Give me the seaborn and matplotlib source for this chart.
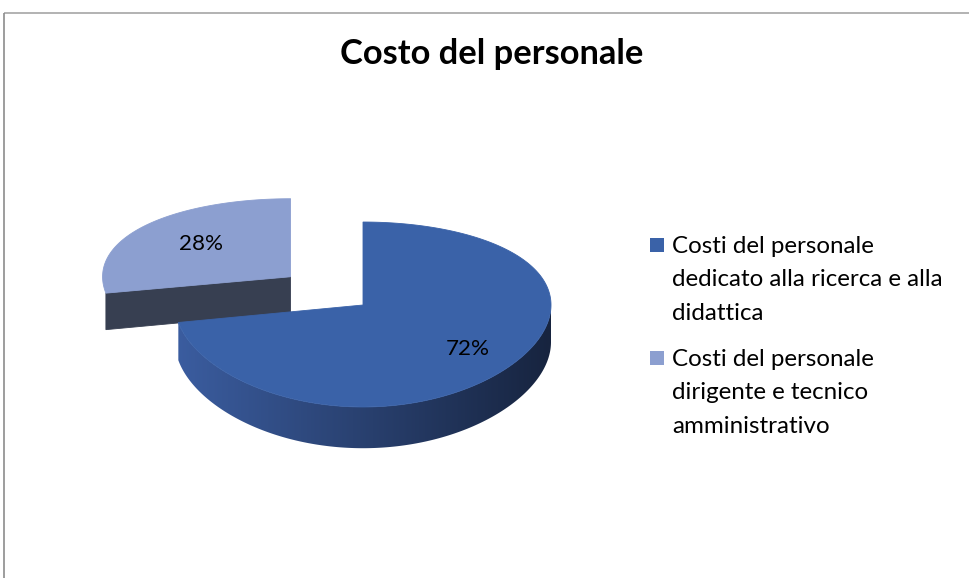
import numpy as np
import matplotlib
matplotlib.use("Agg")
import matplotlib.pyplot as plt
from matplotlib.patches import Polygon, Rectangle
from matplotlib.colors import to_rgb, LinearSegmentedColormap
import seaborn as sns

# ---------------- data ----------------
title = "Costo del personale"
categories = [
    "Costi del personale\ndedicato alla ricerca e alla\ndidattica",
    "Costi del personale\ndirigente e tecnico\namministrativo",
]
values = [72, 28]
pct_labels = ["72%", "28%"]
explode = [0.0, 0.5]

# ---------------- style ----------------
sns.set_theme(style="white")
plt.rcParams['font.family'] = ['Lato', 'DejaVu Sans']

top_colors = ["#3a62a8", "#8c9fd0"]
side_left = ["#3b5da0", "#3a4259"]
side_right = ["#17243f", "#333b4d"]
cut_colors = ["#2c4a80", "#373f51"]

W, Hpx = 969, 578
fig = plt.figure(figsize=(W / 100, Hpx / 100), dpi=100)
ax = fig.add_axes([0, 0, 1, 1])
ax.set_xlim(0, W)
ax.set_ylim(Hpx, 0)
ax.axis('off')

# chart frame (partly cropped in the reference)
ax.plot([4.5, W], [12.5, 12.5], color="#a6a6a6", lw=1.2, solid_capstyle='butt')
ax.plot([4.5, 4.5], [12.5, Hpx], color="#8c8c8c", lw=1.2, solid_capstyle='butt')

# 3D pie geometry (layout)
CX, CY, RX, RY, K, DEPTH = 363, 305, 188, 91.5, 0.1027, 37
label_r = [0.72, 0.62]


def proj(X, Z, down=0.0):
    s = 1.0 / (1.0 - K * Z)
    return CX + RX * X, CY + RY * Z * s + down * s


total = float(sum(values))
slices = []
start = 90.0
for i, v in enumerate(values):
    sweep = v / total * 360.0
    t1 = start
    t2 = start - sweep
    mid = np.deg2rad((t1 + t2) / 2)
    ox, oz = explode[i] * np.cos(mid), -explode[i] * np.sin(mid)
    slices.append(dict(i=i, t1=t1, t2=t2, mid=mid, ox=ox, oz=oz))
    start = t2

# draw back slices first
slices.sort(key=lambda s: s['oz'] - np.sin(s['mid']))

xmin, xmax = CX - RX, CX + RX
zbase = 2

for s in slices:
    i = s['i']
    ox, oz = s['ox'], s['oz']
    ts = np.linspace(s['t1'], s['t2'], 600)
    tr = np.deg2rad(ts)
    # outer side wall (front part only) with horizontal gradient
    fr = tr[np.sin(tr) < 0]
    if len(fr) > 1:
        topp = [proj(ox + np.cos(t), oz - np.sin(t)) for t in fr]
        botp = [proj(ox + np.cos(t), oz - np.sin(t), DEPTH) for t in fr[::-1]]
        wall = Polygon(topp + botp, closed=True, facecolor='none',
                       edgecolor='none', transform=ax.transData)
        ax.add_patch(wall)
        cmap = LinearSegmentedColormap.from_list(
            "w%d" % i, [side_left[i], side_right[i]])
        grad = np.linspace(0, 1, 256).reshape(1, -1)
        im = ax.imshow(grad, cmap=cmap, extent=(xmin, xmax, 500, 150),
                       aspect='auto', interpolation='bilinear', zorder=zbase)
        im.set_clip_path(wall)
    # radial cut faces
    for ang, sign in ((s['t1'], -1), (s['t2'], 1)):
        a = np.deg2rad(ang)
        nz = sign * np.cos(a)
        if nz > 0.05:
            v0 = proj(ox, oz)
            e0 = proj(ox + np.cos(a), oz - np.sin(a))
            e1 = proj(ox + np.cos(a), oz - np.sin(a), DEPTH)
            v1 = proj(ox, oz, DEPTH)
            ax.add_patch(Polygon([v0, e0, e1, v1], closed=True,
                                 facecolor=cut_colors[i], edgecolor=cut_colors[i],
                                 lw=0.6, zorder=zbase + 0.5))
    # top face
    pts = [proj(ox, oz)]
    for t in tr:
        pts.append(proj(ox + np.cos(t), oz - np.sin(t)))
    ax.add_patch(Polygon(pts, closed=True, facecolor=top_colors[i],
                         edgecolor=top_colors[i], lw=0.6, zorder=zbase + 1))
    # percentage label
    lx, lz = ox + label_r[i] * np.cos(s['mid']), oz - label_r[i] * np.sin(s['mid'])
    px, py = proj(lx, lz)
    s['label'] = ax.text(px, py, pct_labels[i], ha='center', va='center',
                         fontsize=15, color='black', zorder=10)
    zbase += 2

ax.set_xlim(0, W)
ax.set_ylim(Hpx, 0)

# title
t_title = ax.text(492, 64, title, ha='center', va='baseline', fontsize=20,
                  fontweight='bold', color='black')

# legend
legend_texts = []
base_y = [253, 366]
line_h = 33.3
for i, cat in enumerate(categories):
    lines = cat.split("\n")
    ax.add_patch(Rectangle((650, base_y[i] - 15), 14, 14, facecolor=top_colors[i],
                           edgecolor='none', zorder=4))
    for j, ln in enumerate(lines):
        legend_texts.append(ax.text(672, base_y[i] + j * line_h, ln, ha='left',
                                    va='baseline', fontsize=15, color='black'))

# fit font sizes to the reference's text widths
fig.canvas.draw()
r = fig.canvas.get_renderer()


def fit(txt, target):
    w = txt.get_window_extent(r).width
    return txt.get_fontsize() * target / w


fs_title = fit(t_title, 303)
t_title.set_fontsize(fs_title)
fs_leg = fit(legend_texts[0], 203)
for t in legend_texts:
    t.set_fontsize(fs_leg)
lab = [s['label'] for s in slices if s['i'] == 0][0]
fs_lab = fit(lab, 44)
for s in slices:
    s['label'].set_fontsize(fs_lab)

fig.savefig("out.png", dpi=100, facecolor='white')
